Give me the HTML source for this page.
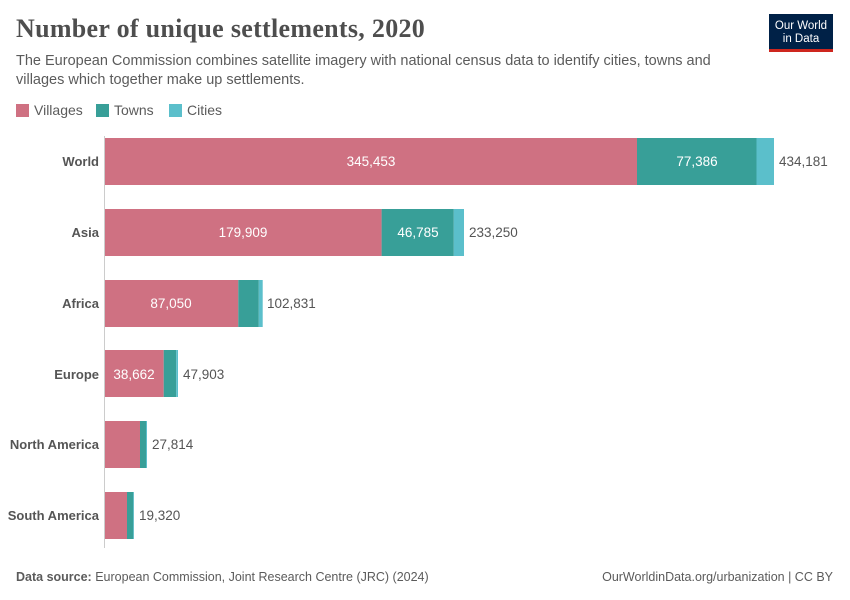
<!DOCTYPE html>
<html><head><meta charset="utf-8"><style>
body{margin:0;background:#fff;font-family:"Liberation Sans",sans-serif;}
.wrap{position:relative;width:850px;height:600px;overflow:hidden;}
h1{position:absolute;left:16px;top:14px;margin:0;font-family:"Liberation Serif",serif;font-weight:bold;font-size:26px;color:#4e4e4e;letter-spacing:0.3px}
.sub{position:absolute;left:16px;top:52px;width:730px;font-size:14.5px;line-height:19px;color:#5b5b5b}
.logo{position:absolute;left:769px;top:14px;width:64px;height:38px;background:#002147;color:#fff;font-size:11.5px;line-height:13px;text-align:center;padding-top:6px;box-sizing:border-box;border-bottom:3px solid #ce261e}
.leg{position:absolute;top:102px;font-size:14px;color:#5b5b5b}
.leg i{display:inline-block;width:13px;height:13px;vertical-align:-2px;margin-right:5px}
.foot{position:absolute;top:570px;font-size:12.5px;color:#5b5b5b}
</style></head><body><div class="wrap">
<h1>Number of unique settlements, 2020</h1>
<div class="sub">The European Commission combines satellite imagery with national census data to identify cities, towns and villages which together make up settlements.</div>
<div class="logo">Our World<br>in Data</div>
<div class="leg" style="left:16px"><i style="background:#cf7182"></i>Villages</div>
<div class="leg" style="left:96px"><i style="background:#389f98"></i>Towns</div>
<div class="leg" style="left:169px"><i style="background:#5bbfcb"></i>Cities</div>
<svg width="850" height="600" style="position:absolute;left:0;top:0" font-family="Liberation Sans, sans-serif" font-size="13.5">
<line x1="104.5" y1="136" x2="104.5" y2="548" stroke="#ccc"/>
<g font-weight="bold" fill="#555" text-anchor="end" font-size="13">
<text x="99" y="166">World</text><text x="99" y="237">Asia</text><text x="99" y="308">Africa</text>
<text x="99" y="379">Europe</text><text x="99" y="449">North America</text><text x="99" y="520">South America</text></g>
<g>
<rect x="105" y="138" width="532" height="47" fill="#cf7182"/><rect x="637" y="138" width="119.5" height="47" fill="#389f98"/><rect x="756.5" y="138" width="17.5" height="47" fill="#5bbfcb"/>
<rect x="105" y="209" width="276.6" height="47" fill="#cf7182"/><rect x="381.6" y="209" width="72.2" height="47" fill="#389f98"/><rect x="453.8" y="209" width="10.2" height="47" fill="#5bbfcb"/>
<rect x="105" y="280" width="133.3" height="47" fill="#cf7182"/><rect x="238.3" y="280" width="20.5" height="47" fill="#389f98"/><rect x="258.8" y="280" width="3.9" height="47" fill="#5bbfcb"/>
<rect x="105" y="350" width="58.7" height="47" fill="#cf7182"/><rect x="163.7" y="350" width="12.5" height="47" fill="#389f98"/><rect x="176.2" y="350" width="1.8" height="47" fill="#5bbfcb"/>
<rect x="105" y="421" width="35" height="47" fill="#cf7182"/><rect x="140" y="421" width="6" height="47" fill="#389f98"/><rect x="146" y="421" width="1" height="47" fill="#5bbfcb"/>
<rect x="105" y="492" width="22" height="47" fill="#cf7182"/><rect x="127" y="492" width="6.3" height="47" fill="#389f98"/><rect x="133.3" y="492" width="0.7" height="47" fill="#5bbfcb"/>
</g>
<g fill="#fff" text-anchor="middle">
<text x="371" y="166">345,453</text><text x="697" y="166">77,386</text>
<text x="243" y="237">179,909</text><text x="418" y="237">46,785</text>
<text x="171" y="308">87,050</text><text x="134" y="379">38,662</text></g>
<g fill="#555">
<text x="779" y="166">434,181</text><text x="469" y="237">233,250</text><text x="267" y="308">102,831</text>
<text x="183" y="379">47,903</text><text x="152" y="449">27,814</text><text x="139" y="520">19,320</text></g>
</svg>
<div class="foot" style="left:16px"><b>Data source:</b> European Commission, Joint Research Centre (JRC) (2024)</div>
<div class="foot" style="right:17px">OurWorldinData.org/urbanization | CC BY</div>
</div></body></html>
